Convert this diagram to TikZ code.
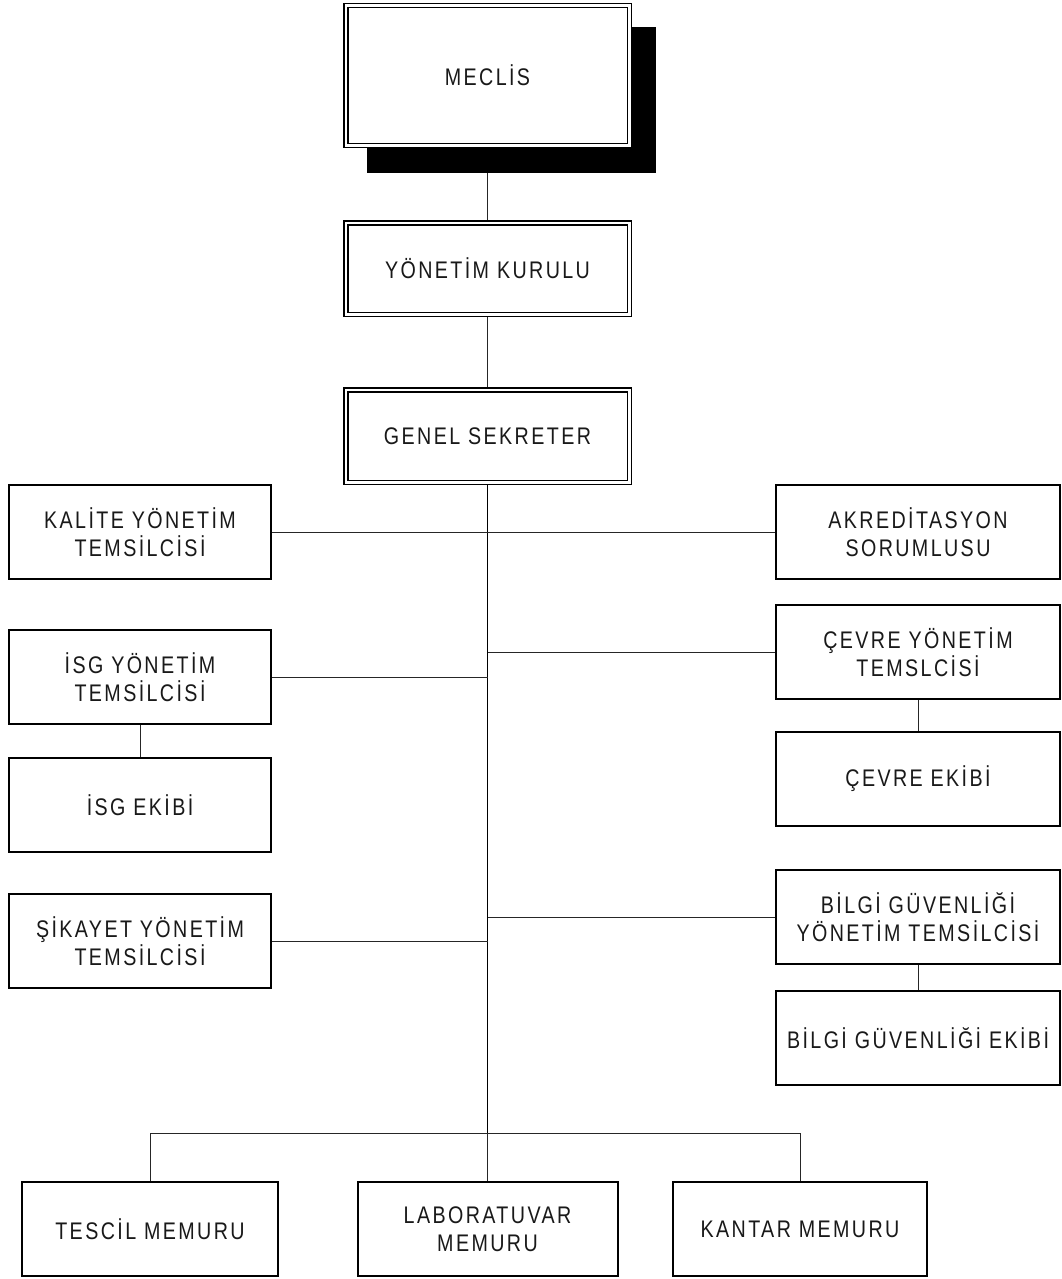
\documentclass[tikz,border=0pt]{standalone}
\usepackage{fontspec}
\setmainfont{Liberation Sans}[FakeStretch=0.82, LetterSpace=10]
\usetikzlibrary{backgrounds}
\newcommand\orgboxfont{\fontsize{24}{28}\selectfont}
\begin{document}
\begin{tikzpicture}[x=1pt, y=-1pt,
  box/.style={draw, line width=2pt, fill=white, rectangle, inner sep=0pt, align=center, font=\orgboxfont, text=black!90},
  lbox/.style={box, minimum width=262pt, minimum height=94pt},
  rbox/.style={box, minimum width=284pt, minimum height=94pt},
  bbox/.style={box, minimum height=94pt},
  dbox/.style={draw, line width=1.5pt, double=white, double distance=2.5pt, fill=white, rectangle, inner sep=0pt, align=center, font=\orgboxfont, text=black!90, minimum width=283.5pt},
  link/.style={line width=1pt, draw=black!85},
  trunk/.style={line width=1.7pt, draw=black}
]
\useasboundingbox (0,0) rectangle (1061,1279);
% top boxes
\fill[black] (367,27) rectangle (656,173);
\node[dbox, minimum height=139.5pt] (meclis) at (487.5,75.5) {MECLİS};
\node[dbox, minimum height=91.5pt] (ykurul) at (487.5,268.5) {YÖNETİM KURULU};
\node[dbox, minimum height=92.5pt] (genel) at (487.5,436) {GENEL SEKRETER};
% left column
\node[lbox] (kalite) at (140,532) {KALİTE YÖNETİM\\TEMSİLCİSİ};
\node[lbox] (isg) at (140,677) {İSG YÖNETİM\\TEMSİLCİSİ};
\node[lbox] (isgekip) at (140,805) {İSG EKİBİ};
\node[lbox] (sikayet) at (140,941) {ŞİKAYET YÖNETİM\\TEMSİLCİSİ};
% right column
\node[rbox] (akred) at (918,532) {AKREDİTASYON\\SORUMLUSU};
\node[rbox] (cevre) at (918,652) {ÇEVRE YÖNETİM\\TEMSLCİSİ};
\node[rbox] (cevreekip) at (918,779) {ÇEVRE EKİBİ};
\node[rbox] (bilgi) at (918,917) {BİLGİ GÜVENLİĞİ\\YÖNETİM TEMSİLCİSİ};
\node[rbox] (bilgiekip) at (918,1038) {BİLGİ GÜVENLİĞİ EKİBİ};
% bottom row
\node[bbox, minimum width=256pt] (tescil) at (150,1229) {TESCİL MEMURU};
\node[bbox, minimum width=260pt] (lab) at (487.5,1229) {LABORATUVAR\\MEMURU};
\node[bbox, minimum width=254pt] (kantar) at (800,1229) {KANTAR MEMURU};
\coordinate (bus) at (487.5,1133);
\begin{scope}[on background layer]
  \draw[link] (meclis.south) -- (ykurul.north);
  \draw[link] (ykurul.south) -- (genel.north);
  \draw[trunk] (genel.south) -- (bus);
  \draw[link] (bus) -- (lab.north);
  \draw[link] (tescil.north) |- (bus) -| (kantar.north);
  \draw[link] (kalite.east) -- (akred.west);
  \draw[link] (isg.east) -- (isg.east -| genel.south);
  \draw[link] (sikayet.east) -- (sikayet.east -| genel.south);
  \draw[link] (cevre.west) -- (cevre.west -| genel.south);
  \draw[link] (bilgi.west) -- (bilgi.west -| genel.south);
  \draw[link] (isg.south) -- (isgekip.north);
  \draw[link] (cevre.south) -- (cevreekip.north);
  \draw[link] (bilgi.south) -- (bilgiekip.north);
\end{scope}
\end{tikzpicture}
\end{document}
